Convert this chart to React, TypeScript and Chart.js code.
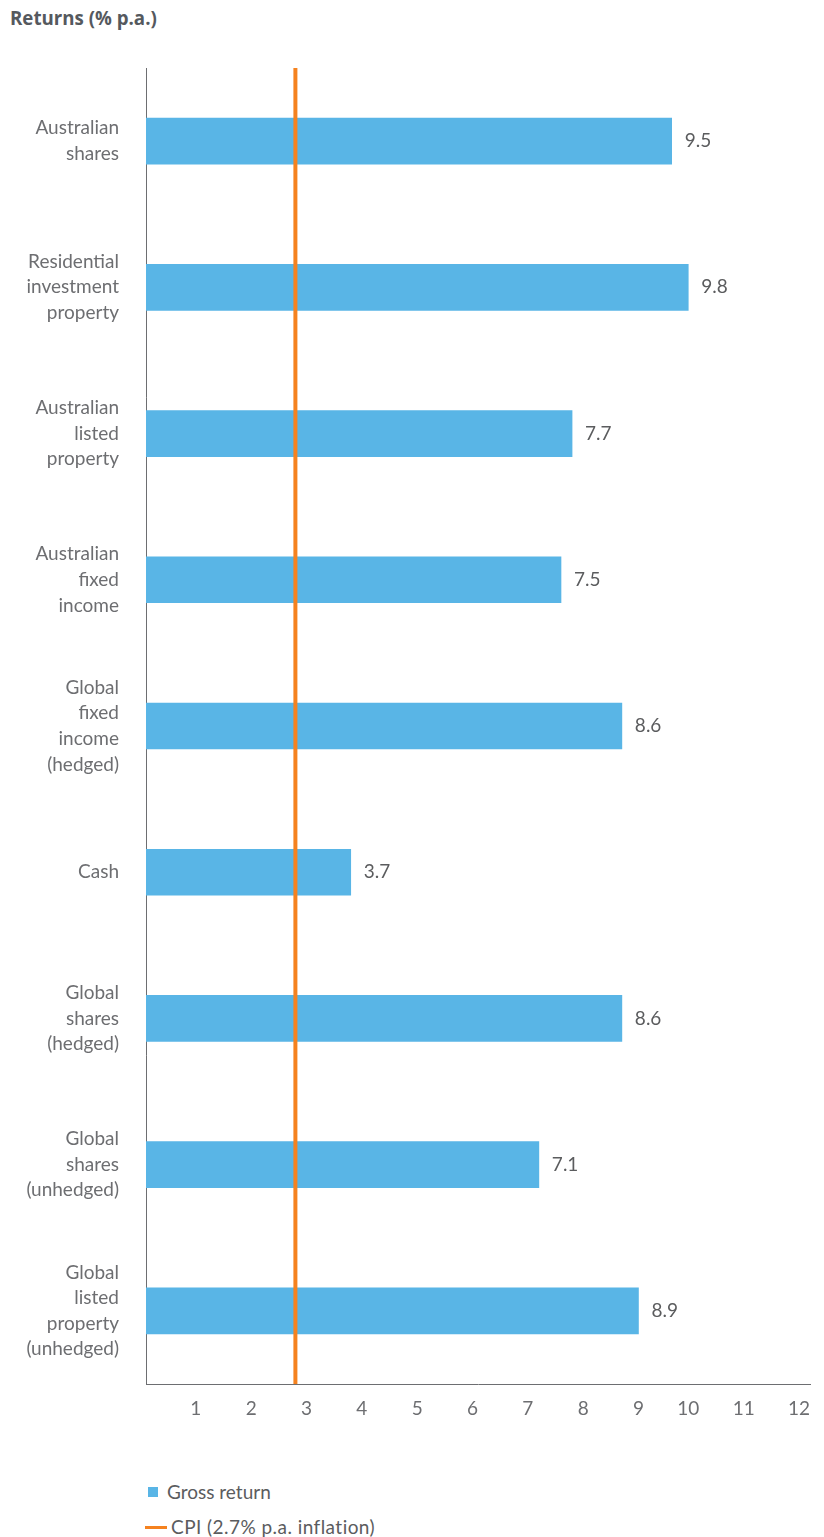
import React, { useEffect, useRef } from "react";
import { Chart, registerables } from "chart.js";

Chart.register(...registerables);

const categories: (string | string[])[] = [
  ["Australian", "shares"],
  ["Residential", "investment", "property"],
  ["Australian", "listed", "property"],
  ["Australian", "fixed", "income"],
  ["Global", "fixed", "income", "(hedged)"],
  "Cash",
  ["Global", "shares", "(hedged)"],
  ["Global", "shares", "(unhedged)"],
  ["Global", "listed", "property", "(unhedged)"],
];
const grossReturn = [9.5, 9.8, 7.7, 7.5, 8.6, 3.7, 8.6, 7.1, 8.9];
const cpiInflation = 2.7;
const xMin = 0;
const xMax = 12;
const titleText = "Returns (% p.a.)";
const legendGross = "Gross return";
const legendCpi = "CPI (2.7% p.a. inflation)";

const BLUE = "#59b5e6";
const ORANGE = "#f5821f";
const AXIS = "#6d6e71";
const LABEL = "#6d6e71";
const VALUE = "#5b5c5e";
const FONT = 'Lato, "Open Sans", sans-serif';

const overlayPlugin = {
  id: "overlay",
  afterDatasetsDraw(chart: any) {
    const ctx = chart.ctx;
    const xs = chart.scales.x;
    const area = chart.chartArea;
    ctx.save();
    const px = xs.getPixelForValue(cpiInflation);
    ctx.strokeStyle = ORANGE;
    ctx.lineWidth = 4;
    ctx.beginPath();
    ctx.moveTo(px, area.top);
    ctx.lineTo(px, area.bottom);
    ctx.stroke();
    const meta = chart.getDatasetMeta(0);
    ctx.font = `19px ${FONT}`;
    ctx.fillStyle = VALUE;
    ctx.textAlign = "left";
    ctx.textBaseline = "middle";
    meta.data.forEach((bar: any, i: number) => {
      ctx.fillText(grossReturn[i].toFixed(1), bar.x + 13, bar.y);
    });
    ctx.restore();
  },
};

const zeroPadding = (s: any) => {
  s.paddingTop = 0;
  s.paddingBottom = 0;
  s.paddingLeft = 0;
  s.paddingRight = 0;
};

export default function App() {
  const ref = useRef<HTMLCanvasElement | null>(null);

  useEffect(() => {
    if (!ref.current) return;
    const chart = new Chart(ref.current, {
      type: "bar",
      data: {
        labels: categories,
        datasets: [
          {
            label: legendGross,
            data: grossReturn,
            backgroundColor: BLUE,
            borderWidth: 0,
            barThickness: 46,
          },
        ],
      },
      options: {
        indexAxis: "y",
        animation: false,
        responsive: false,
        devicePixelRatio: 1,
        layout: { padding: { left: 0, right: 14, top: 68, bottom: 0 } },
        plugins: {
          legend: { display: false },
          tooltip: { enabled: false },
        },
        scales: {
          x: {
            type: "linear",
            min: xMin,
            max: xMax,
            grid: { display: false, drawTicks: false },
            border: { display: true, color: AXIS, width: 1 },
            ticks: {
              stepSize: 1,
              align: "end",
              padding: 13,
              color: LABEL,
              font: { family: FONT, size: 19 },
              callback: (v: any) => (v === 0 ? "" : String(v)),
            },
            afterFit: (s: any) => {
              s.height = 40;
              zeroPadding(s);
            },
          },
          y: {
            type: "category",
            grid: { display: false, drawTicks: false },
            border: { display: true, color: AXIS, width: 1 },
            ticks: {
              padding: 27,
              autoSkip: false,
              color: LABEL,
              font: { family: FONT, size: 19, lineHeight: 1.35 },
            },
            afterFit: (s: any) => {
              s.width = 146;
              zeroPadding(s);
            },
          },
        },
      },
      plugins: [overlayPlugin],
    } as any);
    return () => chart.destroy();
  }, []);

  return (
    <div
      style={{
        position: "fixed",
        left: 0,
        top: 0,
        width: 824,
        height: 1537,
        overflow: "hidden",
        background: "#fff",
        fontFamily: FONT,
      }}
    >
      <div
        style={{
          position: "absolute",
          left: 10,
          top: 6,
          fontFamily: '"Open Sans", sans-serif',
          fontWeight: 700,
          fontSize: 18.7,
          lineHeight: "24px",
          color: "#55595e",
          whiteSpace: "nowrap",
        }}
      >
        {titleText}
      </div>
      <canvas
        ref={ref}
        width={824}
        height={1424}
        style={{ position: "absolute", left: 0, top: 0, width: 824, height: 1424 }}
      />
      <div
        style={{
          position: "absolute",
          left: 148,
          top: 1487,
          width: 10,
          height: 10,
          background: BLUE,
        }}
      />
      <div
        style={{
          position: "absolute",
          left: 167,
          top: 1480,
          lineHeight: "24px",
          fontSize: 19,
          color: VALUE,
          whiteSpace: "nowrap",
        }}
      >
        {legendGross}
      </div>
      <div
        style={{
          position: "absolute",
          left: 145,
          top: 1526,
          width: 22,
          height: 3,
          background: ORANGE,
        }}
      />
      <div
        style={{
          position: "absolute",
          left: 171,
          top: 1515,
          lineHeight: "24px",
          fontSize: 19,
          letterSpacing: "0.45px",
          color: VALUE,
          whiteSpace: "nowrap",
        }}
      >
        {legendCpi}
      </div>
    </div>
  );
}
